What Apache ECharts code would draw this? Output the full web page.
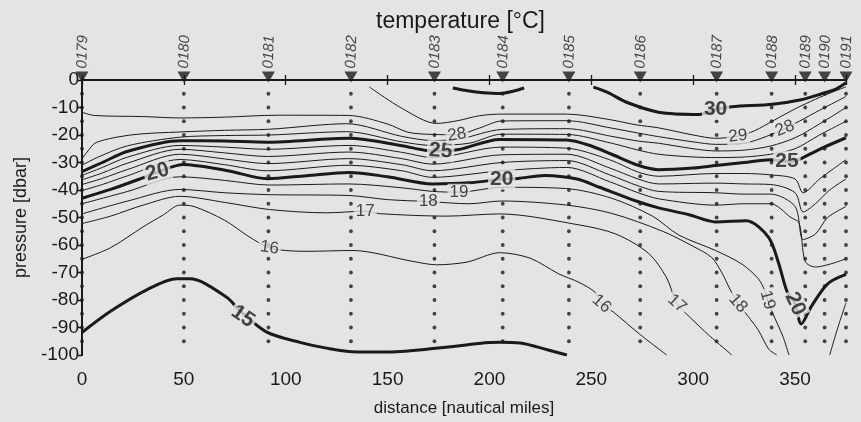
<!DOCTYPE html>
<html>
<head>
<meta charset="utf-8">
<script src="https://cdn.jsdelivr.net/npm/echarts@6/dist/echarts.min.js"></script>
<style>
html,body{margin:0;padding:0;background:#e4e4e2;}
#c{width:861px;height:422px;}
</style>
</head>
<body>
<div id="c"></div>
<script>
// ---- data ----
const stationNames = ['0179','0180','0181','0182','0183','0184','0185','0186','0187','0188','0189','0190','0191'];
const stationX = [0, 50, 91.5, 132, 173, 206.5, 239, 274, 311.5, 338.5, 355, 364.5, 375];
const sampleDepths = [-5,-10,-15,-20,-25,-30,-35,-40,-45,-50,-55,-60,-65,-70,-75,-80,-85,-90,-95];
const xTicks = [0,50,100,150,200,250,300,350];

const c15 = [[0,-91.8],[14,-84.1],[32,-76.2],[46.6,-72.3],[53,-72.3],[71,-79],[77.5,-83.9],[90.7,-91.7],[107,-95.4],[120,-97.5],[135,-98.9],[151,-98.9],[176,-97.4],[195,-95.8],[205,-95.4],[215,-95.6],[228,-98],[238,-100]];
const c16 = [[0,-65.2],[14,-61],[30,-53.4],[40,-49],[48,-45.5],[55,-46],[70,-51],[82,-57],[92,-61.1],[100,-62],[110,-62.3],[133,-62],[162,-65.9],[174,-67.2],[189,-66.2],[205,-62.8],[220,-64.8],[234,-70.5],[244,-73.6],[252,-77.3],[255,-81.4],[261,-84.5],[273.5,-92.3],[287,-100]];
const c17 = [[0,-52.2],[14,-49.5],[30,-45.5],[48,-42.3],[70,-44.5],[92,-47.1],[120,-48.3],[139,-47.7],[146,-48.6],[179,-49.5],[205,-48.7],[244,-52.7],[262,-56],[278,-63],[287,-72],[292,-81.3],[298,-86],[308,-93],[319,-100]];
const c18 = [[0,-48.7],[22.5,-44],[48,-39.8],[70,-41],[92,-41.7],[131,-42],[150,-43.5],[170,-44.2],[190,-45],[206,-44],[238,-45.5],[260,-48.5],[285,-55],[300,-60.5],[309,-64.5],[314,-70],[318,-76],[322,-81.2],[327,-86],[332,-91],[337,-97.8],[341,-100]];
const c19 = [[0,-45],[22.5,-40.5],[48,-35.2],[70,-36.5],[92,-38.2],[131,-37.8],[157,-39.2],[172,-40.5],[185,-40.8],[206,-39],[238,-39.5],[260,-43],[280,-49.5],[293,-56.4],[311,-62],[324,-67],[332,-72.3],[335,-76.4],[336.5,-80],[339,-84.8],[344,-93.2],[347,-100]];
const c19b = [[367,-100],[371,-90],[375,-81]];
const c20 = [[0,-43],[14,-39.8],[28,-36.1],[37,-33.5],[44.6,-31.5],[49.5,-30.7],[71.6,-33],[91,-35.9],[110,-34.8],[131,-33.6],[150,-35.2],[172,-37.8],[190,-37.4],[206,-36.1],[214,-35.8],[227,-34.7],[243,-36],[254,-39],[272,-44],[283,-46.5],[298,-49],[311,-51.6],[326,-51.2],[337,-57.2],[342,-66.8],[346,-76.8],[350,-81.4],[353,-88.7],[358,-82.3],[366,-74.1],[375,-70.7]];
const c21 = [[0,-40.2],[10,-38],[22.5,-34.8],[48,-28.9],[70,-30.8],[91,-33],[131,-31],[157,-33],[172,-35.4],[206,-33],[238,-31.8],[259,-37],[273,-41],[283,-43.2],[311,-45.5],[325,-45],[338,-45],[348,-50],[352,-52],[355,-66],[360,-68],[375,-65]];
const c22 = [[0,-38],[10,-35.8],[22.5,-32.5],[48,-27],[70,-28.7],[91,-30.4],[131,-28.6],[157,-30.8],[172,-33],[206,-30],[238,-29.3],[259,-34.5],[273,-38.5],[283,-40.5],[311,-41],[325,-41.5],[338,-41.5],[350,-46],[354,-58],[360,-56],[366,-50],[375,-46]];
const c23 = [[0,-36.3],[10,-33.8],[22.5,-30.2],[48,-25.2],[70,-26.5],[91,-27.8],[131,-26.2],[157,-28.6],[172,-30.6],[206,-27.2],[238,-27],[259,-32],[273,-36],[283,-37.8],[311,-37.5],[325,-37.8],[338,-38],[350,-41],[354,-48],[360,-45],[367,-40],[375,-36]];
const c24 = [[0,-34.7],[10,-31.8],[22.5,-28],[48,-23.8],[70,-24.4],[91,-25.2],[131,-23.8],[157,-26.3],[172,-28.2],[206,-24.4],[238,-24.8],[259,-29],[273,-33.5],[283,-35],[311,-34],[325,-34],[338,-34.5],[350,-36],[354,-41],[362,-36],[375,-29]];
const c25 = [[0,-33.3],[10,-30],[22.5,-25.9],[48,-22.1],[70,-22.2],[91,-22.6],[131,-21.2],[157,-23.9],[169,-25.6],[176,-25.8],[185,-25.3],[205,-21.6],[238,-21.8],[250,-24],[260,-27],[273,-31],[283,-32.6],[300,-32],[311,-31.1],[325,-30],[338,-29],[346,-29.6],[351,-29.2],[362,-25.2],[375,-21]];
const c26 = [[0,-31],[8,-28],[22.5,-23.9],[48,-20.8],[70,-20.2],[92,-20],[130,-18.8],[157,-22.5],[172,-23.8],[190,-23],[206,-19.7],[238,-19.8],[260,-23],[273,-25.5],[283,-27],[300,-28],[311,-28.2],[325,-28],[338,-27],[350,-25],[362,-20],[375,-15]];
const c27 = [[0,-28.6],[2.5,-26.2],[7,-22.7],[25,-19.9],[48,-18.9],[70,-18.3],[92,-17.9],[130,-15.9],[157,-20.5],[172,-22],[185,-21.5],[206,-18],[238,-17.7],[260,-20.5],[273,-22.2],[283,-23],[300,-25],[311,-25.8],[325,-25.5],[338,-24],[350,-21],[362,-16],[375,-10]];
const c28 = [[0,-11.7],[6,-12.9],[30,-13.3],[48,-13.8],[70,-13.5],[96,-12.8],[131,-12.9],[150,-16],[160,-19],[172,-19.8],[184,-19.9],[195,-17.5],[206,-14.9],[238,-14.8],[260,-17.5],[273,-19.3],[283,-20.6],[300,-22.5],[311,-23.4],[325,-23],[336,-20.5],[345,-17.6],[352,-15],[362,-11],[375,-6]];
const c29 = [[141,-2.5],[157,-10.3],[174,-15.8],[185,-14.7],[195,-13],[206,-12.4],[238,-12.4],[259,-14.4],[272,-16.3],[283,-17.4],[300,-20],[311,-21.2],[322,-20.4],[330,-18.5],[340,-14.5],[350,-10.5],[360,-7],[368,-4.5],[375,-2.5]];
const c30a = [[182,-2.9],[190,-4],[197,-4.6],[205,-4.9],[212,-4],[217,-2.9]];
const c30b = [[251,-2.6],[258,-4.5],[267,-8],[283,-11.7],[303,-12.5],[311,-10.7],[319,-9.7],[339,-8.8],[353,-7.2],[363,-5],[370,-3.3],[375,-1]];

const contourLines = [[15,c15],[16,c16],[17,c17],[18,c18],[19,c19],[19,c19b],[20,c20],[21,c21],[22,c22],[23,c23],[24,c24],[25,c25],[26,c26],[27,c27],[28,c28],[29,c29],[30,c30a],[30,c30b]];

// contour labels: [text, x, y]
const contourLabels = [['15',79,-86],['16',92,-61],['16',255,-81.4],['17',139,-47.7],['17',292,-81.3],['18',170,-44.2],['18',322,-81.2],['19',185,-40.8],['19',336.5,-80],['20',37,-33.5],['20',206,-36.1],['20',350,-81.4],['25',176,-25.8],['25',346,-29.6],['28',184,-19.9],['28',345,-17.6],['29',322,-20.4],['30',311,-10.7]];
const labelRotation = [-35,-8,-42,0,-42,0,-48,0,-75,15,0,-65,-4,0,8,22,6,0];

// ---- chart ----
const ink = '#1a1a1a';
const bg = '#e4e4e2';
const font = 'Liberation Sans, Arial, Helvetica, sans-serif';

const series = [];
contourLines.forEach(([t, pts]) => {
  const bold = t % 5 === 0;
  series.push({
    type: 'line', data: pts, showSymbol: false, smooth: 0.3, silent: true,
    lineStyle: { color: ink, width: bold ? 3 : 1 }, z: 2
  });
});

const dots = [];
stationX.forEach(x => sampleDepths.forEach(d => dots.push([x, d])));
series.push({
  type: 'scatter', data: dots, symbolSize: 3.8, itemStyle: { color: ink }, z: 3, silent: true
});

series.push({
  type: 'scatter', clip: false, z: 6, silent: true,
  data: contourLabels.map((l, i) => {
    const bold = (+l[0]) % 5 === 0;
    return {
      value: [l[1], l[2]],
      label: {
        formatter: l[0], rotate: labelRotation[i],
        fontSize: bold ? 21 : 17, fontWeight: bold ? 'bold' : 'normal'
      }
    };
  }),
  symbolSize: 0,
  label: { show: true, position: 'inside', color: ink, fontFamily: font, backgroundColor: bg, padding: [0, 2] }
});

series.push({
  type: 'scatter', clip: false, z: 8, silent: true,
  data: stationX.map((x, i) => ({ value: [x, 0], name: stationNames[i] })),
  symbol: 'triangle', symbolRotate: 180, symbolSize: [13, 11], symbolOffset: [0, -3],
  itemStyle: { color: ink },
  label: {
    show: true, formatter: p => p.name, position: 'top', distance: 3, rotate: 88,
    align: 'left', verticalAlign: 'middle', fontSize: 15, fontStyle: 'italic',
    color: ink, fontFamily: font
  }
});

const chart = echarts.init(document.getElementById('c'), null, { renderer: 'canvas' });
chart.setOption({
  backgroundColor: bg,
  animation: false,
  title: {
    text: 'temperature [°C]', left: 371, top: 5,
    textStyle: { fontSize: 23, fontWeight: 'normal', color: ink, fontFamily: font }
  },
  grid: { left: 82, right: 15, top: 80, bottom: 61 },
  xAxis: [{
    type: 'value', min: 0, max: 375, interval: 50, position: 'bottom',
    name: 'distance [nautical miles]', nameLocation: 'middle', nameGap: 45,
    nameTextStyle: { fontSize: 17, color: ink, fontFamily: font },
    axisLine: { lineStyle: { color: ink, width: 1.8 } },
    axisTick: { length: 5, lineStyle: { color: ink, width: 1.3 } },
    axisLabel: { fontSize: 19, color: ink, fontFamily: font, margin: 15,
      formatter: v => xTicks.indexOf(v) >= 0 ? String(v) : '' },
    splitLine: { show: false }
  }, {
    type: 'value', min: 0, max: 375, interval: 50, position: 'top',
    axisLine: { lineStyle: { color: ink, width: 1.8 } },
    axisTick: { length: 5, lineStyle: { color: ink, width: 1.3 } },
    axisLabel: { show: false }, splitLine: { show: false }
  }],
  yAxis: [{
    type: 'value', min: -100, max: 0, interval: 10, position: 'left',
    name: 'pressure [dbar]', nameLocation: 'middle', nameGap: 52, nameRotate: 90,
    nameTextStyle: { fontSize: 18, color: ink, fontFamily: font },
    axisLine: { show: true, lineStyle: { color: ink, width: 1.8 } },
    axisTick: { show: true, length: 4, lineStyle: { color: ink, width: 1.3 } },
    axisLabel: { fontSize: 19, color: ink, fontFamily: font, margin: 3 },
    splitLine: { show: false }
  }, {
    type: 'value', min: -100, max: 0, interval: 10, position: 'right',
    axisLine: { show: true, lineStyle: { color: ink, width: 1.8 } },
    axisTick: { show: true, inside: true, length: 4, lineStyle: { color: ink, width: 1.3 } },
    axisLabel: { show: false }, splitLine: { show: false }
  }],
  series: series
});
</script>
</body>
</html>
